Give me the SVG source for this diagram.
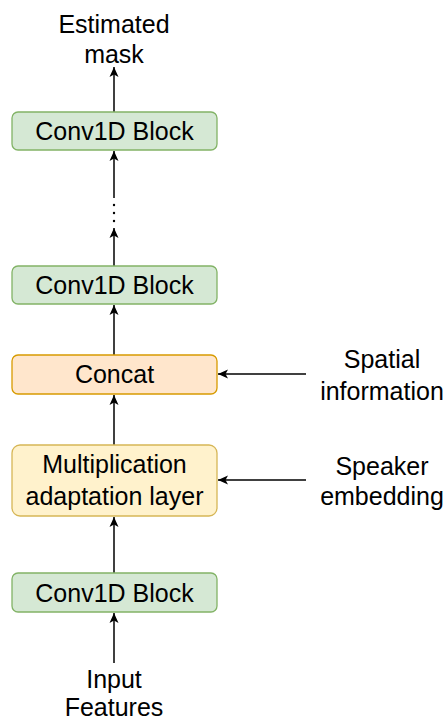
<svg xmlns="http://www.w3.org/2000/svg" width="447" height="720" viewBox="0 0 447 720">
  <style>
    text { font-family: "Liberation Sans", Arial, sans-serif; font-size: 25px; fill: #000; text-anchor: middle; }
    .green { fill: #d5e8d4; stroke: #82b366; stroke-width: 1.3; }
    .orange { fill: #ffe6cc; stroke: #d79b00; stroke-width: 1.3; }
    .yellow { fill: #fff2cc; stroke: #d6b656; stroke-width: 1.3; }
    .edge { fill: none; stroke: #000; stroke-width: 1.5; marker-end: url(#arrow); }
  </style>
  <defs>
    <marker id="arrow" viewBox="-12 -6 12 12" markerWidth="12" markerHeight="12" markerUnits="userSpaceOnUse" refX="0" refY="0" orient="auto">
      <path d="M0,0 L-10,-4.5 L-7.5,0 L-10,4.5 Z" fill="#000"/>
    </marker>
  </defs>

  <!-- connectors -->
  <g id="connectors">
    <path class="edge" d="M114,663 V613"/>
    <path class="edge" d="M114,573 V517"/>
    <path class="edge" d="M114,445 V395"/>
    <path class="edge" d="M114,355 V305"/>
    <path class="edge" d="M114,266 V228"/>
    <path class="edge" d="M114,198 V151"/>
    <path class="edge" d="M114,112 V67"/>
    <path class="edge" d="M306,374 H218"/>
    <path class="edge" d="M306,480 H218"/>
    <g id="ellipsis" fill="#000">
      <circle cx="114" cy="205" r="1.2"/>
      <circle cx="114" cy="213" r="1.2"/>
      <circle cx="114" cy="221" r="1.2"/>
    </g>
  </g>

  <g id="output-label">
    <text x="114" y="33">Estimated</text>
    <text x="114" y="63">mask</text>
  </g>

  <g id="conv-top">
    <rect class="green" x="12" y="112" width="205" height="38" rx="6"/>
    <text x="114.5" y="140">Conv1D Block</text>
  </g>

  <g id="conv-mid">
    <rect class="green" x="12" y="266" width="205" height="38" rx="6"/>
    <text x="114.5" y="294">Conv1D Block</text>
  </g>

  <g id="concat">
    <rect class="orange" x="12" y="355" width="205" height="39" rx="6"/>
    <text x="114.5" y="383">Concat</text>
  </g>

  <g id="mult-adapt">
    <rect class="yellow" x="12" y="445" width="205" height="71" rx="8"/>
    <text x="114.5" y="473">Multiplication</text>
    <text x="114.5" y="505">adaptation layer</text>
  </g>

  <g id="conv-bottom">
    <rect class="green" x="12" y="573" width="205" height="39" rx="6"/>
    <text x="114.5" y="602">Conv1D Block</text>
  </g>

  <g id="spatial-label">
    <text x="382" y="368">Spatial</text>
    <text x="382" y="400">information</text>
  </g>

  <g id="speaker-label">
    <text x="382" y="475">Speaker</text>
    <text x="382" y="505">embedding</text>
  </g>

  <g id="input-label">
    <text x="114" y="688">Input</text>
    <text x="114" y="716">Features</text>
  </g>
</svg>
